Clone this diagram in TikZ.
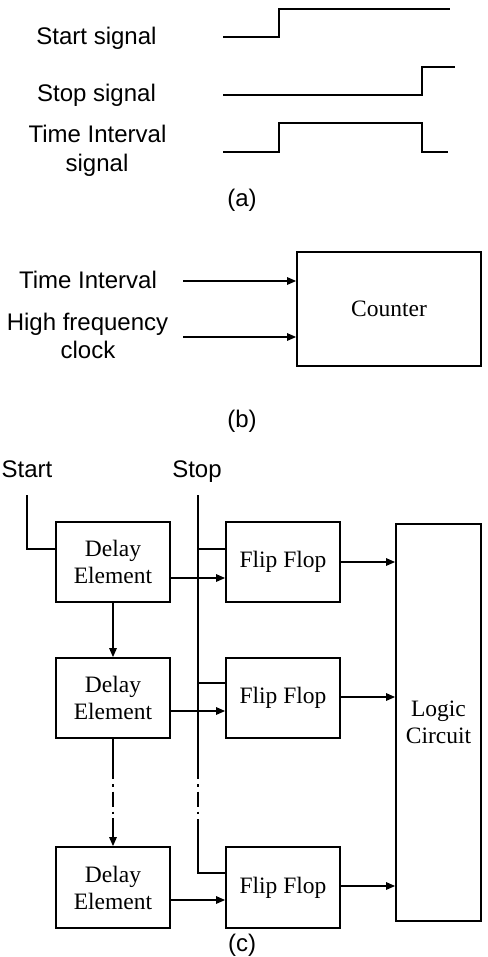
\documentclass[tikz,border=0pt]{standalone}
\usepackage{fontspec}
\setmainfont{Liberation Serif}
\newfontfamily\sansf{Liberation Sans}
\usetikzlibrary{arrows.meta}
\tikzset{
  sanslbl/.style={font=\sansf\fontsize{24}{29}\selectfont, inner sep=0pt, anchor=base},
  blockbox/.style={draw, line width=1.8pt, inner sep=0pt, align=center,
    font=\fontsize{23.5}{27}\selectfont},
  wave/.style={line width=1.8pt, line join=miter},
  ln/.style={line width=1.4pt},
  arr/.style={line width=1.4pt, -{Triangle[length=9pt,width=7.5pt]}},
  dashdot/.style={dash pattern=on 15pt off 5pt on 2.5pt off 5pt}
}
\begin{document}
\begin{tikzpicture}[x=1pt,y=-1pt]
\useasboundingbox (0,0) rectangle (487,957);

% ---------------- (a) ----------------
\node[sanslbl] (lstart) at (96.5,45) {Start signal};
\node[sanslbl] (lstop) at (96.5,101.5) {Stop signal};
\node[sanslbl] (lti1) at (97.5,143) {Time Interval};
\node[sanslbl] (lti2) at (97,172) {signal};
\node[sanslbl] (capa) at (242,207) {(a)};

\draw[wave] (223,37) -- (279,37) -- (279,9) -- (450,9);
\draw[wave] (223,95) -- (422,95) -- (422,67) -- (455,67);
\draw[wave] (223,152) -- (279,152) -- (279,123) -- (422,123) -- (422,152) -- (448,152);

% ---------------- (b) ----------------
\node[sanslbl] (lti) at (88,288) {Time Interval};
\node[sanslbl] (lhf1) at (87.5,330) {High frequency};
\node[sanslbl] (lhf2) at (88,358) {clock};
\node[blockbox, minimum width=184pt, minimum height=114pt] (counter) at (389,309) {Counter};
\node[sanslbl] (capb) at (242,427) {(b)};

\coordinate (ti0) at (183,281);
\coordinate (hf0) at (183,337);
\draw[arr] (ti0) -- (ti0 -| counter.west);
\draw[arr] (hf0) -- (hf0 -| counter.west);

% ---------------- (c) ----------------
\node[sanslbl] (lS) at (27,477) {Start};
\node[sanslbl] (lT) at (197,477) {Stop};

\node[blockbox, minimum width=114pt, minimum height=80pt] (d1) at (113,562) {Delay\\Element};
\node[blockbox, minimum width=114pt, minimum height=80pt] (d2) at (113,698) {Delay\\Element};
\node[blockbox, minimum width=114pt, minimum height=81pt] (d3) at (113,887.5) {Delay\\Element};

\node[blockbox, minimum width=114pt, minimum height=80pt] (f1) at (283,562) {Flip Flop};
\node[blockbox, minimum width=114pt, minimum height=80pt] (f2) at (283,698) {Flip Flop};
\node[blockbox, minimum width=114pt, minimum height=81pt] (f3) at (283,887.5) {Flip Flop};

\node[blockbox, minimum width=85pt, minimum height=397pt] (lg) at (438.5,722.5) {Logic\\Circuit};

\node[sanslbl] (capc) at (242,951) {(c)};

% start line
\coordinate (st0) at (27,495);
\coordinate (st1) at ([yshift=13pt]d1.west);
\draw[ln] (st0) |- (st1);

% stop line
\coordinate (sp0) at (198,495);
\coordinate (sp1) at (198,764);
\coordinate (sp2) at (198,820);
\coordinate (t1) at ([yshift=13pt]f1.west);
\coordinate (t2) at ([yshift=15pt]f2.west);
\coordinate (t3) at ([yshift=14.5pt]f3.west);
\draw[ln] (sp0) -- (sp1);
\draw[ln, dashdot] (sp1) -- (sp2);
\draw[ln] (sp2) |- (t3);
\draw[ln] (t1 -| sp0) -- (t1);
\draw[ln] (t2 -| sp0) -- (t2);

% delay outputs to flip flops
\draw[arr] ([yshift=-16pt]d1.east) -- ([yshift=-16pt]f1.west);
\draw[arr] ([yshift=-13pt]d2.east) -- ([yshift=-13pt]f2.west);
\draw[arr] ([yshift=-12.5pt]d3.east) -- ([yshift=-12.5pt]f3.west);

% flip flop outputs to logic
\draw[arr] (f1.east) -- (f1.east -| lg.west);
\draw[arr] ([yshift=1pt]f2.east) -- ([yshift=1pt]f2.east -| lg.west);
\draw[arr] ([yshift=1.5pt]f3.east) -- ([yshift=1.5pt]f3.east -| lg.west);

% delay chain
\draw[arr] (d1.south) -- (d2.north);
\coordinate (c1) at (113,764);
\coordinate (c2) at (113,818);
\draw[ln] (d2.south) -- (c1);
\draw[ln, dashdot] (c1) -- (c2);
\draw[arr] (c2) -- (d3.north);
\end{tikzpicture}
\end{document}
